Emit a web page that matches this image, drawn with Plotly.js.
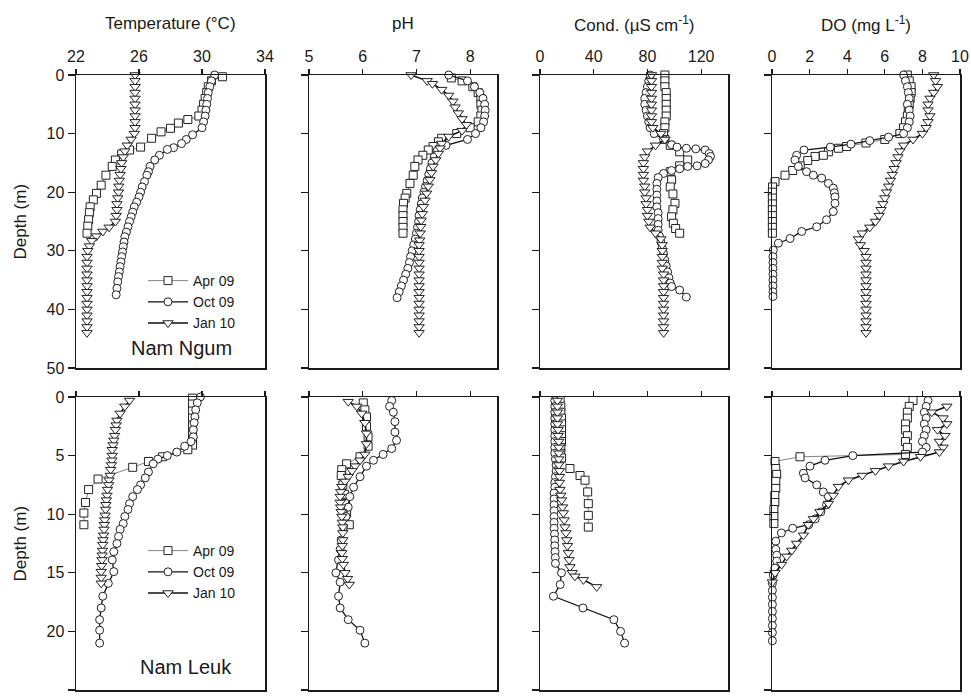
<!DOCTYPE html>
<html><head><meta charset="utf-8">
<script src="https://cdn.plot.ly/plotly-3.0.1.min.js"></script>
<style>html,body{margin:0;padding:0;background:#fff}#chart{width:971px;height:696px}</style>
</head><body><div id="chart"></div>
<script>
// ===== DATA =====
const surveys = ['Apr 09', 'Oct 09', 'Jan 10'];
const panelTitles = ['Temperature (°C)', 'pH', 'Cond. (µS cm<sup>-1</sup>)', 'DO (mg L<sup>-1</sup>)'];
const stations = ['Nam Ngum', 'Nam Leuk'];
const tempTicks = [22, 26, 30, 34];
const phTicks = [5, 6, 7, 8];
const condTicks = [0, 40, 80, 120];
const doTicks = [0, 2, 4, 6, 8, 10];
const depthTicksNN = [0, 10, 20, 30, 40, 50];
const depthTicksNL = [0, 5, 10, 15, 20, 25];

// ---- Nam Ngum : Temperature ----
const nnTempAprD = [0.3,1,2,3,4,5,6,7,7.6,8.2,9.1,9.7,10.8,12.3,12.8,13.5,14.5,15.6,17.1,18.8,20.2,21.3,22.5,23.5,24.7,25.8,27.0];
const nnTempApr  = [31.3,30.6,30.4,30.3,30.2,30.1,30.0,29.8,29.1,28.5,28.0,27.4,26.8,26.1,25.4,24.9,24.5,24.3,23.9,23.6,23.3,23.1,22.9,22.85,22.8,22.75,22.7];
const nnTempOctD = [0,1,2,3,4,5,6,7,8,9,10.2,11.0,11.7,12.4,12.7,13.7,14.5,15.6,16.5,17.1,18.2,19.1,20.0,20.8,21.7,22.5,23.4,24.2,25.0,25.9,26.8,27.6,28.5,29.3,30.2,31.0,31.9,32.7,33.6,34.4,35.3,36.4,37.5];
const nnTempOct  = [30.8,30.6,30.5,30.4,30.35,30.3,30.25,30.2,30.1,30.0,29.4,29.0,28.7,28.2,27.8,27.3,27.0,26.7,26.6,26.5,26.35,26.2,26.1,26.0,25.85,25.7,25.6,25.5,25.4,25.3,25.2,25.1,25.05,25.0,24.95,24.9,24.85,24.8,24.75,24.7,24.65,24.6,24.55];
const nnTempJanD = [0,1,2,3,4,5,6,7,8,9,10,11,12,13,14,15,16,17,18,19,20,21,22,23,24,25,26,26.7,27.5,28.3,29.2,30,31,32,33,34,35,36,37,38,39,40,41,42,43,44];
const nnTempJan  = [25.75,25.75,25.75,25.75,25.75,25.75,25.75,25.75,25.75,25.75,25.7,25.5,25.25,25.1,25.0,24.9,24.85,24.8,24.75,24.72,24.7,24.65,24.6,24.6,24.55,24.5,24.1,23.7,23.3,23.0,22.85,22.75,22.7,22.7,22.7,22.7,22.7,22.7,22.7,22.7,22.7,22.7,22.7,22.7,22.7,22.7];

// ---- Nam Ngum : pH ----
const nnPhAprD = [0.5,1,2,3,4,5,6,7,8,9,10,10.8,11.4,12.2,12.8,13.7,14.5,15.6,17.1,18.5,20.2,21.0,21.9,23.0,24.0,25.0,26.0,27.0];
const nnPhApr  = [7.65,7.85,8.05,8.15,8.2,8.2,8.22,8.2,8.15,8.0,7.75,7.47,7.41,7.31,7.22,7.12,7.03,6.97,6.94,6.88,6.82,6.79,6.76,6.75,6.75,6.75,6.75,6.75];
const nnPhOctD = [0,1,2,3,4,5,6,7,8,9,10,11,12,13,14,15,16,17,18,19,20,21,22,23,24,25,26,27,28,29,30,31,32,33,34,35,36,37,38];
const nnPhOct  = [7.6,7.95,8.08,8.18,8.24,8.27,8.28,8.27,8.25,8.2,8.1,7.95,7.55,7.38,7.33,7.29,7.26,7.23,7.2,7.17,7.14,7.11,7.09,7.07,7.05,7.04,7.02,7.0,6.98,6.95,6.92,6.89,6.87,6.84,6.8,6.76,6.72,6.68,6.64];
const nnPhJanD = [0,1,1.5,2.5,3.5,4.5,5.5,6.5,7.5,8.5,9.5,10.5,11.7,12.5,13.4,14.5,15.6,16.7,17.9,19,20.2,21.4,22.5,23.7,24.8,25.9,27,28.2,29,30,31,32,33,34,35,36,37,38,39,40,41,42,43,44];
const nnPhJan  = [6.9,7.2,7.3,7.47,7.6,7.68,7.72,7.78,7.85,7.93,7.85,7.6,7.47,7.44,7.41,7.36,7.31,7.28,7.25,7.22,7.19,7.16,7.13,7.11,7.09,7.08,7.07,7.06,7.05,7.05,7.05,7.05,7.05,7.05,7.05,7.05,7.05,7.05,7.05,7.05,7.05,7.05,7.05,7.05];

// ---- Nam Ngum : Conductivity ----
const nnCondAprD = [0,1,2,3,4,5,6,7,8,9,10,11,12,13.1,14.5,15.5,16.5,17.9,19.1,20.3,21.9,23,24.2,25.3,26.2,27];
const nnCondApr  = [93,93,93,94,94,94,94,94,93,93,92,93,97,104,110,104,97,98,97,99,100.5,99,98,99.3,101,104];
const nnCondOctD = [0,1,2,3,4,5,6,7,8,9,10,11,11.9,12.3,12.5,12.6,12.8,13.4,13.9,14.5,15.1,15.5,15.6,16.0,16.3,16.8,17.5,18.5,19.5,20.5,21.5,22.5,23.5,24.5,25.5,26.5,27.5,28.5,29.5,30.5,31.6,32.6,33.6,34.6,35.5,36.1,36.7,37.9];
const nnCondOct  = [82,81,80,79,78,78,79,80,81,82,85,92,98,102,109,116,123,126,127,125.5,123,117,110,104,98,92,88,87,87,87,87,87,88,88,88,88,89,90,91,92,93,94,95,96,97,98,104,109];
const nnCondJanD = [0,1,2,3,4,5,6,7,8,9,10,11,12,13,14,15,16,17,18,19,20,21,22,23,24,25,26,27,28,29,30,31,32,33,34,35,36,37,38,39,40,41,42,43,44];
const nnCondJan  = [83,83,83,83,83,83,83,83,83,84,90,93,86,80,78,77,77,77,77,78,78,79,79,80,80,81,82,86,90,91,91,91,91,91,92,92,92,92,92,92,92,92,92,92,92];

// ---- Nam Ngum : Dissolved oxygen ----
const nnDoAprD = [0,1,2,3,4,5,6,7,8,9,10,11,11.6,12.2,12.5,13.1,13.7,13.9,14.6,15.5,16.3,17.1,18.2,19.1,20,21,22,23,24,25,26,27];
const nnDoApr  = [7.2,7.3,7.4,7.4,7.35,7.3,7.25,7.2,7.1,7.0,6.8,6.0,5.0,3.97,3.53,3.0,2.73,2.29,1.9,1.5,1.1,0.69,0.16,0.03,0.02,0.02,0.02,0.02,0.02,0.02,0.02,0.02];
const nnDoOctD = [0,1,2,3,4,5,6,7,8,9,10,10.6,11.2,11.8,12.3,12.8,13.7,14.5,15.6,16.5,17.1,17.6,18.5,19.3,20.1,20.8,21.9,23.3,24.7,25.9,26.7,27.9,28.7,29.9,31,32,33,34,35,36,37,37.8];
const nnDoOct  = [7.0,7.1,7.2,7.25,7.3,7.2,7.3,7.35,7.3,7.2,7.0,6.2,5.2,4.2,3.1,1.7,1.31,1.22,1.4,1.84,2.2,2.64,3.0,3.26,3.32,3.35,3.35,3.26,2.9,2.38,1.58,0.96,0.34,0.07,0.05,0.05,0.05,0.05,0.05,0.05,0.05,0.05];
const nnDoJanD = [0,1,2,3,4,5,6,7,8,9,10,11,12,13,14,15,16,17,18,19,20,21,22,23,24,25,26,27,28,29,30,31,32,33,34,35,36,37,38,39,40,41,42,43,44];
const nnDoJan  = [8.6,8.7,8.8,8.6,8.4,8.3,8.3,8.4,8.3,8.2,8.0,7.5,7.0,6.8,6.7,6.6,6.5,6.4,6.3,6.2,6.1,6.0,5.9,5.8,5.7,5.5,5.2,4.8,4.6,4.7,4.9,5.0,5.0,5.0,5.0,5.0,5.0,5.0,5.0,5.0,5.0,5.0,5.0,5.0,5.0];

// ---- Nam Leuk : Temperature ----
const nlTempAprD = [0.1,0.6,1.2,1.8,2.4,3.0,3.6,4.1,4.5,5.1,5.5,6.0,7.0,7.9,9.0,9.9,10.9];
const nlTempApr  = [29.4,29.4,29.4,29.4,29.4,29.4,29.4,29.4,29.1,27.5,26.6,25.6,23.4,22.8,22.6,22.5,22.5];
const nlTempOctD = [0,0.5,1.1,1.7,2.2,2.8,3.4,3.8,4.2,4.7,5.0,5.3,5.7,6.4,6.9,7.5,7.9,8.5,9.1,9.6,10.2,10.8,11.3,11.9,12.5,13.2,13.9,14.9,15.9,17.0,18.0,19.0,19.9,21.0];
const nlTempOct  = [29.9,29.7,29.6,29.55,29.5,29.45,29.45,29.3,28.9,28.4,27.8,27.2,26.9,26.6,26.4,26.1,25.9,25.6,25.4,25.3,25.1,25.0,24.8,24.7,24.6,24.4,24.3,24.4,24.05,23.7,23.6,23.5,23.5,23.5];
const nlTempJanD = [0.3,0.8,1.4,2.0,2.4,2.8,3.3,3.7,4.1,4.5,5.0,5.4,5.8,6.2,6.7,7.1,7.5,7.9,8.4,8.8,9.2,9.6,10.1,10.5,10.9,11.3,11.8,12.2,12.6,13.1,13.5,13.9,14.4,14.9,15.4,15.9];
const nlTempJan  = [25.4,25.1,24.8,24.6,24.55,24.5,24.45,24.4,24.35,24.3,24.3,24.28,24.25,24.2,24.17,24.1,24.07,24.0,23.97,23.93,23.9,23.88,23.85,23.82,23.8,23.78,23.75,23.72,23.7,23.68,23.66,23.65,23.63,23.6,23.6,23.6];

// ---- Nam Leuk : pH ----
const nlPhAprD = [0.5,1.1,1.7,2.5,3.4,4.2,5.1,5.7,6.2,6.7,7.5,8.3,9.1,9.9,10.9];
const nlPhApr  = [6.01,6.04,6.07,6.07,6.1,6.1,5.95,5.7,5.61,5.6,5.63,5.66,5.68,5.7,5.75];
const nlPhOctD = [0.3,0.8,1.3,2.1,3.0,3.7,4.4,4.9,5.4,5.9,6.8,7.7,8.5,9.4,10.2,11.1,12.2,13.0,13.9,15.0,15.8,17.0,18.0,19.0,19.9,21.0];
const nlPhOct  = [6.54,6.5,6.57,6.6,6.6,6.63,6.54,6.38,6.2,6.07,5.95,5.83,5.76,5.73,5.69,5.64,5.6,5.58,5.55,5.5,5.58,5.55,5.58,5.73,5.95,6.04];
const nlPhJanD = [0.4,0.8,1.4,2.2,3.1,4.0,4.9,5.4,5.9,6.3,6.8,7.2,7.65,8.1,8.5,9.0,9.4,9.8,10.2,10.7,11.1,11.6,12.2,12.7,13.3,13.8,14.3,15.0,15.5,16.0];
const nlPhJan  = [5.73,5.89,5.98,6.04,6.07,6.07,6.04,5.95,5.86,5.8,5.73,5.67,5.61,5.59,5.58,5.58,5.59,5.6,5.61,5.62,5.63,5.63,5.63,5.62,5.61,5.62,5.64,5.67,5.72,5.75];

// ---- Nam Leuk : Conductivity ----
const nlCondAprD = [0.3,0.8,1.3,1.8,2.3,2.8,3.3,3.8,4.3,4.8,5.2,6.1,6.7,7.1,8.1,9.1,10.1,11.1];
const nlCondApr  = [15,15.5,15.5,16,16,16,16,16,15.5,15.5,16,22.3,29.8,33.5,35.5,36,36,36];
const nlCondOctD = [0.3,0.8,1.3,1.8,2.3,2.8,3.3,3.8,4.3,4.8,5.3,5.8,6.3,6.8,7.3,7.7,8.2,8.7,9.2,9.7,10.2,10.7,11.2,11.7,12.2,12.7,13.2,13.7,14.2,15.0,16.0,17.0,18.0,19.0,20.0,21.0];
const nlCondOct  = [11,11,11,11,11,11,11,11,11,11,11.5,12,12,11.5,11,11,10.5,10.5,10.5,10.5,10.5,10.5,10.5,10.8,11,11,11.2,11.4,11.5,16,15,10,32,55,60,63];
const nlCondJanD = [0.3,0.8,1.3,1.8,2.3,2.8,3.3,3.8,4.3,4.8,5.3,5.8,6.3,6.8,7.3,7.9,8.4,8.8,9.4,9.9,10.5,11.1,11.6,12.2,12.7,13.3,13.9,14.5,15.0,15.3,15.6,16.2];
const nlCondJan  = [13,13,13,13,13,13.5,13.5,14,14,14,14,14,14.5,14.5,14.5,14.9,15.5,16.1,16.8,17.4,18,18.6,19.3,19.9,20.5,21.1,21.7,22.3,24,26,32.3,42.2];

// ---- Nam Leuk : Dissolved oxygen ----
const nlDoAprD = [0.3,0.8,1.3,1.8,2.3,2.8,3.3,3.8,4.3,4.9,5.1,5.5,6.1,6.6,7.2,7.8,8.4,9.0,9.6,10.2,10.8];
const nlDoApr  = [7.5,7.3,7.2,7.2,7.1,7.1,7.2,7.1,7.2,7.1,1.49,0.16,0.2,0.25,0.2,0.2,0.15,0.15,0.1,0.1,0.1];
const nlDoOctD = [0.3,0.8,1.3,1.8,2.3,2.8,3.3,3.8,4.3,4.7,5.0,5.4,5.9,6.5,6.9,7.5,8.1,8.5,9.2,9.8,10.4,10.9,11.2,11.6,12.3,13.0,13.5,14.0,14.6,15.2,15.9,16.5,17.1,17.7,18.3,18.9,19.5,20.1,20.8];
const nlDoOct  = [8.3,8.2,8.1,8.2,8.1,8.2,8.1,8.0,8.2,8.0,4.3,2.82,2.02,1.67,1.76,2.38,2.73,3.0,2.9,2.6,2.3,1.95,1.1,0.5,0.2,0.2,0.25,0.25,0.15,0.07,0.02,0.02,0.02,0.02,0.02,0.02,0.02,0.02,0.02];
const nlDoJanD = [0.8,1.3,1.8,2.3,2.8,3.3,3.8,4.3,4.7,5.1,5.5,5.9,6.3,6.7,7.1,7.65,8.4,9.1,9.8,10.4,10.9,11.8,12.5,13.1,13.6,14.3,15.0,15.8];
const nlDoJan  = [9.3,8.5,9.1,9.3,8.8,9.2,8.9,9.1,8.9,7.9,7.0,6.2,5.5,4.8,4.06,3.53,3.26,3.0,2.55,2.2,1.93,1.67,1.31,1.05,0.78,0.51,0.16,0.02];

// ===== CHART =====
const FONT = 'Liberation Sans, Arial, sans-serif';
const INK = '#1a1a1a';
const W = 971, H = 696;
const colPx = [[76,265],[309,497],[540,728],[772,960]];
const rowPx = [[75,368],[397,690]];
const xRanges = [[22,34],[5,8.5],[0,140],[0,10]];
const xTicks = [tempTicks, phTicks, condTicks, doTicks];
const yRanges = [[50,0],[25,0]];
const yTicks = [depthTicksNN, depthTicksNL];

const styles = [
  {symbol:'square', size:8, lw:0.8, lc:'#666'},
  {symbol:'circle', size:8, lw:1.3, lc:'#111'},
  {symbol:'triangle-down', size:9, lw:1.6, lc:'#111'}
];

const data = [
  [[nnTempApr,nnTempAprD],[nnTempOct,nnTempOctD],[nnTempJan,nnTempJanD]],
  [[nnPhApr,nnPhAprD],[nnPhOct,nnPhOctD],[nnPhJan,nnPhJanD]],
  [[nnCondApr,nnCondAprD],[nnCondOct,nnCondOctD],[nnCondJan,nnCondJanD]],
  [[nnDoApr,nnDoAprD],[nnDoOct,nnDoOctD],[nnDoJan,nnDoJanD]],
  [[nlTempApr,nlTempAprD],[nlTempOct,nlTempOctD],[nlTempJan,nlTempJanD]],
  [[nlPhApr,nlPhAprD],[nlPhOct,nlPhOctD],[nlPhJan,nlPhJanD]],
  [[nlCondApr,nlCondAprD],[nlCondOct,nlCondOctD],[nlCondJan,nlCondJanD]],
  [[nlDoApr,nlDoAprD],[nlDoOct,nlDoOctD],[nlDoJan,nlDoJanD]]
];

const traces = [];
const layout = {
  width: W, height: H,
  margin: {l:0, r:0, t:0, b:0},
  paper_bgcolor: '#fff', plot_bgcolor: '#fff',
  font: {family: FONT, size: 16, color: INK},
  showlegend: true,
  legend: {x: 143/W, y: 1-265/H, xanchor:'left', yanchor:'top', bgcolor:'rgba(0,0,0,0)',
           font:{family:FONT, size:14, color:INK}, tracegroupgap:0, itemwidth:40},
  legend2: {x: 143/W, y: 1-535/H, xanchor:'left', yanchor:'top', bgcolor:'rgba(0,0,0,0)',
           font:{family:FONT, size:14, color:INK}, tracegroupgap:0, itemwidth:40},
  annotations: [], shapes: []
};

for (let r = 0; r < 2; r++) {
  for (let c = 0; c < 4; c++) {
    const idx = r*4 + c + 1;
    const xn = idx === 1 ? 'xaxis' : 'xaxis' + idx;
    const yn = idx === 1 ? 'yaxis' : 'yaxis' + idx;
    const xid = idx === 1 ? 'x' : 'x' + idx;
    const yid = idx === 1 ? 'y' : 'y' + idx;
    layout[xn] = {
      domain: [colPx[c][0]/W, colPx[c][1]/W], anchor: yid, side: 'top',
      range: xRanges[c], tickvals: xTicks[c], ticktext: xTicks[c].map(String),
      showticklabels: r === 0, ticks: 'outside', ticklen: 5, tickwidth: 1.2, tickcolor: INK,
      showline: true, linewidth: 1.5, linecolor: INK, mirror: true,
      showgrid: false, zeroline: false, fixedrange: true,
      tickfont: {family: FONT, size: 16, color: INK}, automargin: false
    };
    layout[yn] = {
      domain: [1 - rowPx[r][1]/H, 1 - rowPx[r][0]/H], anchor: xid,
      range: yRanges[r], tickvals: yTicks[r], ticktext: yTicks[r].map(String),
      showticklabels: c === 0, ticks: 'outside', ticklen: 7, tickwidth: 1.2, tickcolor: INK,
      showline: true, linewidth: 1.5, linecolor: INK, mirror: true,
      showgrid: false, zeroline: false, fixedrange: true,
      tickfont: {family: FONT, size: 16, color: INK}, automargin: false
    };
    const panel = data[r*4 + c];
    for (let s = 0; s < 3; s++) {
      const st = styles[s];
      traces.push({
        type: 'scatter', mode: 'lines+markers',
        x: panel[s][0], y: panel[s][1],
        xaxis: xid, yaxis: yid,
        name: surveys[s],
        showlegend: c === 0,
        legend: r === 0 ? 'legend' : 'legend2',
        line: {color: st.lc, width: st.lw},
        marker: {symbol: st.symbol, size: st.size, color: '#fff', line: {color: '#222', width: 1}},
        cliponaxis: false, hoverinfo: 'skip'
      });
    }
  }
  layout.annotations.push({
    xref: 'paper', yref: 'paper', x: 20/W, y: 1 - (rowPx[r][0]+rowPx[r][1])/2/H,
    text: 'Depth (m)', textangle: -90, showarrow: false,
    font: {family: FONT, size: 17, color: INK}, xanchor: 'center', yanchor: 'middle'
  });
  layout.annotations.push({
    xref: r === 0 ? 'x' : 'x5', yref: r === 0 ? 'y' : 'y5',
    x: 32.0, y: r === 0 ? 46.6 : 23.0, text: stations[r], showarrow: false,
    font: {family: FONT, size: 20, color: INK}, xanchor: 'right', yanchor: 'middle'
  });
}
for (let c = 0; c < 4; c++) {
  layout.annotations.push({
    xref: 'paper', yref: 'paper', x: (colPx[c][0]+colPx[c][1])/2/W, y: 1 - 24/H,
    text: panelTitles[c], showarrow: false,
    font: {family: FONT, size: 17, color: INK}, xanchor: 'center', yanchor: 'middle'
  });
}

Plotly.newPlot('chart', traces, layout, {staticPlot: true, displayModeBar: false});
</script>
</body></html>
